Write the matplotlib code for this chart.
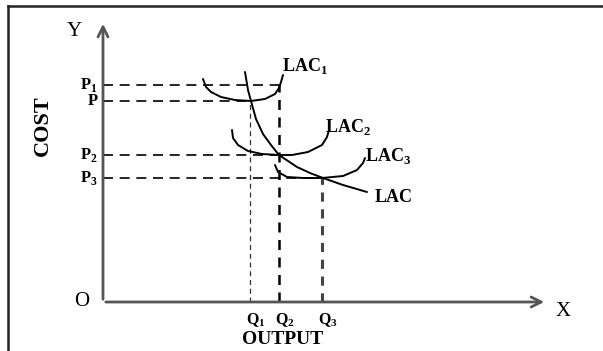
import matplotlib
matplotlib.use("Agg")
import matplotlib.pyplot as plt
from matplotlib.lines import Line2D

plt.rcParams['font.family'] = ['Liberation Serif', 'DejaVu Serif']
plt.rcParams['mathtext.fontset'] = 'custom'
plt.rcParams['mathtext.rm'] = 'Liberation Serif:bold'
plt.rcParams['mathtext.bf'] = 'Liberation Serif:bold'

# output levels and cost levels
q_vals = [147, 176, 219]
q_names = ["Q$_\\mathrm{1}$", "Q$_\\mathrm{2}$", "Q$_\\mathrm{3}$"]
p_vals = [217, 201, 147, 124]
p_names = ["P$_\\mathrm{1}$", "P", "P$_\\mathrm{2}$", "P$_\\mathrm{3}$"]
p_reach = [176, 147, 176, 219]   # how far each price line goes

# short run curves
lac1_x = [100, 103, 108, 118, 132, 148, 162, 172, 176, 178, 180]
lac1_y = [223, 215, 210, 205, 202, 201, 203, 208, 214, 220, 227]
lac2_x = [129, 130, 135, 145, 159, 176, 189, 205, 219, 224, 226]
lac2_y = [172, 164, 157, 151, 148, 147, 147, 150, 157, 165, 172]
lac3_x = [172, 175, 184, 200, 219, 240, 254, 260, 262]
lac3_y = [137, 130, 125, 124, 124, 126, 132, 139, 144]
# long run envelope
lac_x = [142, 145, 148, 153, 160, 168, 176, 185, 194, 207, 220, 240, 264]
lac_y = [230, 212, 201, 183, 168, 157, 147, 141, 135, 129, 124, 117, 110]

fig = plt.figure(figsize=(6.03, 3.51), dpi=100)
ax = fig.add_axes([103/603, 49/351, 444/603, 280/351])
ax.set_xlim(0, 444)
ax.set_ylim(0, 280)
ax.axis('off')

# frame lines of the picture
fig.add_artist(Line2D([8/603, 1], [1 - 6/351, 1 - 6/351], color='#222222', lw=1.8))
fig.add_artist(Line2D([8/603, 8/603], [0, 1 - 6/351], color='#222222', lw=1.8))

# axes with arrows
ax.annotate("", xy=(444, 0), xytext=(0, 0),
            arrowprops=dict(arrowstyle='->', color='#555555', lw=2, mutation_scale=18),
            annotation_clip=False)
ax.annotate("", xy=(0, 281), xytext=(0, 0),
            arrowprops=dict(arrowstyle='->', color='#555555', lw=2, mutation_scale=18),
            annotation_clip=False)

# dashed guide lines
for p, r in zip(p_vals, p_reach):
    ax.plot([0, r], [p, p], color='black', lw=1.2, dashes=(6, 4))
ax.plot([q_vals[0], q_vals[0]], [0, p_vals[1]], color='#333333', lw=0.9, dashes=(4, 3))
ax.plot([q_vals[1], q_vals[1]], [0, p_vals[0]], color='black', lw=1.8, dashes=(4, 3))
ax.plot([q_vals[2], q_vals[2]], [0, p_vals[3]], color='#444444', lw=2.2, dashes=(3, 2.5))

# cost curves
for cx, cy in [(lac1_x, lac1_y), (lac2_x, lac2_y), (lac3_x, lac3_y), (lac_x, lac_y)]:
    ax.plot(cx, cy, color='black', lw=1.4, solid_capstyle='round',
            solid_joinstyle='round')

lab = dict(fontsize=13, fontweight='bold', va='center', ha='left')
ax.text(179, 236, "LAC$_\\mathrm{1}$", **lab)
ax.text(222, 175, "LAC$_\\mathrm{2}$", **lab)
ax.text(262, 146, "LAC$_\\mathrm{3}$", **lab)
ax.text(272, 104, "LAC", **lab)

for p, n in zip(p_vals, p_names):
    ax.text(-5, p, n, fontsize=12, fontweight='bold', ha='right', va='center')
for q, n in zip(q_vals, q_names):
    ax.text(q + 6, -18, n, fontsize=11.5, fontweight='bold', ha='center', va='center')

ax.text(180, -37, "OUTPUT", fontsize=14, fontweight='bold', ha='center', va='center')
ax.text(-60, 176, "COST", fontsize=16, fontweight='bold', rotation=90,
        ha='center', va='center')
ax.text(-29, 271, "Y", fontsize=15, ha='center', va='center')
ax.text(460, -9, "X", fontsize=15, ha='center', va='center')
ax.text(-21, 0, "O", fontsize=15, ha='center', va='center')

fig.savefig("out.png", dpi=100)
